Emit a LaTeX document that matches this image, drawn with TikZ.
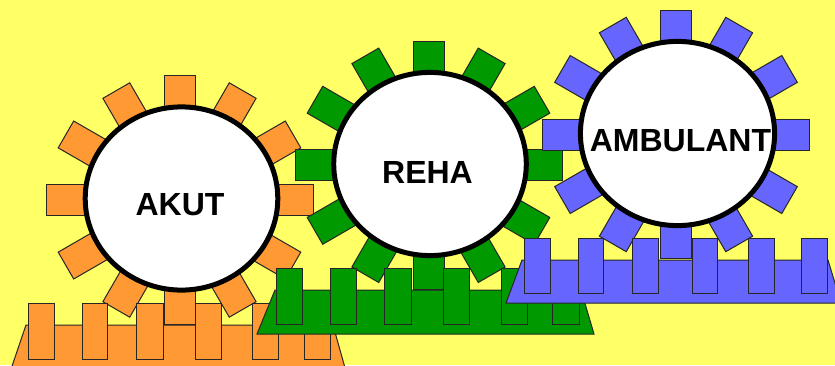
\documentclass[tikz,border=0pt]{standalone}
\usepackage{fontspec}
\setmainfont{Liberation Sans}

\definecolor{bgyellow}{HTML}{FFFF66}
\definecolor{gearorange}{HTML}{FF9933}
\definecolor{geargreen}{HTML}{009900}
\definecolor{gearblue}{HTML}{6666FF}

% Twelve teeth around a ring: #1,#2 = centre of the ring, #3 = fill colour
\newcommand{\gearteeth}[3]{%
  \foreach \a in {0,30,...,330}{%
    \pgfmathsetmacro{\rr}{124+9.5*sin(\a)*sin(\a)-22.5}%
    \draw[tooth, fill=#3, shift={({#1+\rr*sin(\a)},{#2+\rr*cos(\a)})}, rotate=-\a]
      (-15.5,-22.5) rectangle (15.5,22.5);
  }%
}

% Rack: trapezoid base (#1) with teeth at the listed x ranges (#2), between heights #3 and #4, fill #5
\newcommand{\rack}[5]{%
  \draw[rackpart, fill=#5] #1 -- cycle;
  \foreach \xa/\xb in {#2}{%
    \draw[rackpart, fill=#5] (\xa,#3) rectangle (\xb,#4);
  }%
}

\begin{document}
\begin{tikzpicture}[x=1pt,y=1pt,
  tooth/.style={draw=black!85, line width=1pt},
  hub/.style={draw=black, line width=5pt, fill=white},
  rackpart/.style={draw=black!85, line width=1pt},
  gearlabel/.style={font=\fontsize{32}{36}\selectfont\bfseries, anchor=base, inner sep=0pt}]

\fill[bgyellow] (0,0) rectangle (835,365);
\useasboundingbox (0,0) rectangle (835,365);
\clip (0,0) rectangle (835,365);

% AKUT
\gearteeth{179.5}{165}{gearorange}
\draw[hub] (181.5,166.5) ellipse [x radius=96.3, y radius=91.6];
\node[gearlabel] (akut) at (180,150) {AKUT};
\rack{(10.7,-5) -- (26,40) -- (333,40) -- (345.6,-5)}
     {28/54, 82/107, 136/163, 195/221, 252/278, 304/330}{6}{62}{gearorange}

% REHA
\gearteeth{428.5}{199.7}{geargreen}
\draw[hub] (430,201) ellipse [x radius=96.3, y radius=91.6];
\node[gearlabel] (reha) at (427.5,182) {REHA};
\rack{(257,31) -- (275,75) -- (581,75) -- (594,31)}
     {276/302, 330/356, 384/411, 443/469, 501/527, 552/579}{41}{97}{geargreen}

% AMBULANT
\gearteeth{676}{230.5}{gearblue}
\draw[hub] (677.5,231.5) ellipse [x radius=97.1, y radius=92.1];
\node[gearlabel] (ambulant) at (680.5,213.3) {AMBULANT};
\rack{(506,62) -- (522,105) -- (828,105) -- (841,62)}
     {524/550, 578/603, 632/658, 692/717, 748/774, 801/827}{72}{127}{gearblue}

\end{tikzpicture}
\end{document}
